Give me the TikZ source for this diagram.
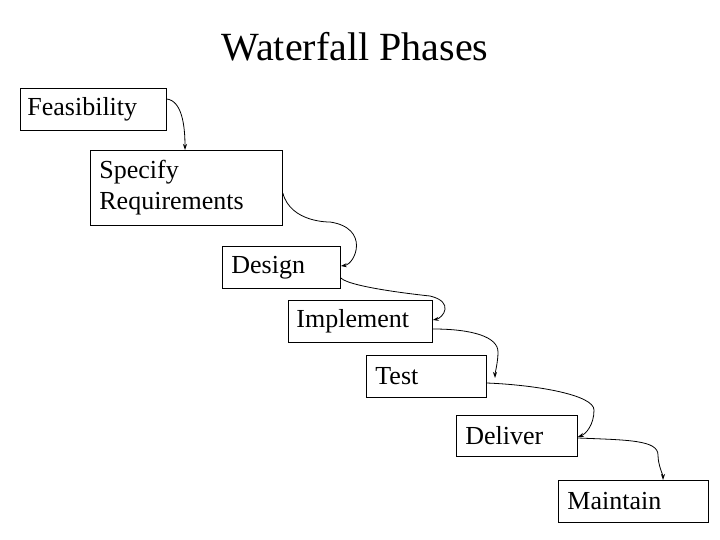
\documentclass[tikz,border=0pt]{standalone}
\usepackage{fontspec}
\setmainfont{Liberation Serif}
\usetikzlibrary{arrows.meta}
\begin{document}
\begin{tikzpicture}[x=1pt,y=-1pt,
  box/.style={draw,thick,inner sep=0pt,anchor=north west,align=left,font=\fontsize{26}{31}\selectfont},
  arr/.style={thick,-{Stealth[length=6pt,width=4pt]}}]
\useasboundingbox (0,0) rectangle (720,540);
\node[font=\fontsize{40}{46}\selectfont] (title) at (355,47) {Waterfall Phases};
\node[box,minimum width=146,minimum height=42,text width=140] (a) at (20,88) {\hspace{4pt}Feasibility};
\node[box,minimum width=192,minimum height=75,text width=186] (b) at (90,150) {\hspace{6pt}Specify\\\hspace{6pt}Requirements};
\node[box,minimum width=118,minimum height=42,text width=112] (c) at (222,246) {\hspace{6pt}Design};
\node[box,minimum width=144,minimum height=42,text width=138] (d) at (288,300) {\hspace{5pt}Implement};
\node[box,minimum width=120,minimum height=42,text width=114] (e) at (366,355) {\hspace{6pt}Test};
\node[box,minimum width=121,minimum height=41,text width=115] (f) at (456,415) {\hspace{6pt}Deliver};
\node[box,minimum width=150,minimum height=42,text width=144] (g) at (558,480) {\hspace{6pt}Maintain};
\draw[arr] ([yshift=-11]a.north east) .. controls +(15,2) and +(0,-25) .. ([xshift=95]b.north west);
\draw[arr] ([yshift=-43]b.north east) .. controls +(8,30) and +(0,0) .. (330,222) .. controls +(40,6) and +(15,-2) .. ([yshift=-20]c.north east);
\draw[arr] ([yshift=-32]c.north east) .. controls +(10,10) and +(0,0) .. (430,296) .. controls +(25,6) and +(10,-2) .. ([yshift=-20]d.north east);
\draw[arr] ([yshift=-29]d.north east) .. controls +(40,0) and +(0,-15) .. (498,352) .. controls +(0,10) and +(0,-5) .. (495,378);
\draw[arr] ([yshift=-28]e.north east) .. controls +(50,2) and +(0,-15) .. (594,410) .. controls +(0,15) and +(8,-3) .. ([yshift=-22]f.north east);
\draw[arr] ([yshift=-23]f.north east) .. controls +(50,2) and +(0,-15) .. (658,455) .. controls +(0,10) and +(0,-5) .. (663,480);
\end{tikzpicture}
\end{document}
